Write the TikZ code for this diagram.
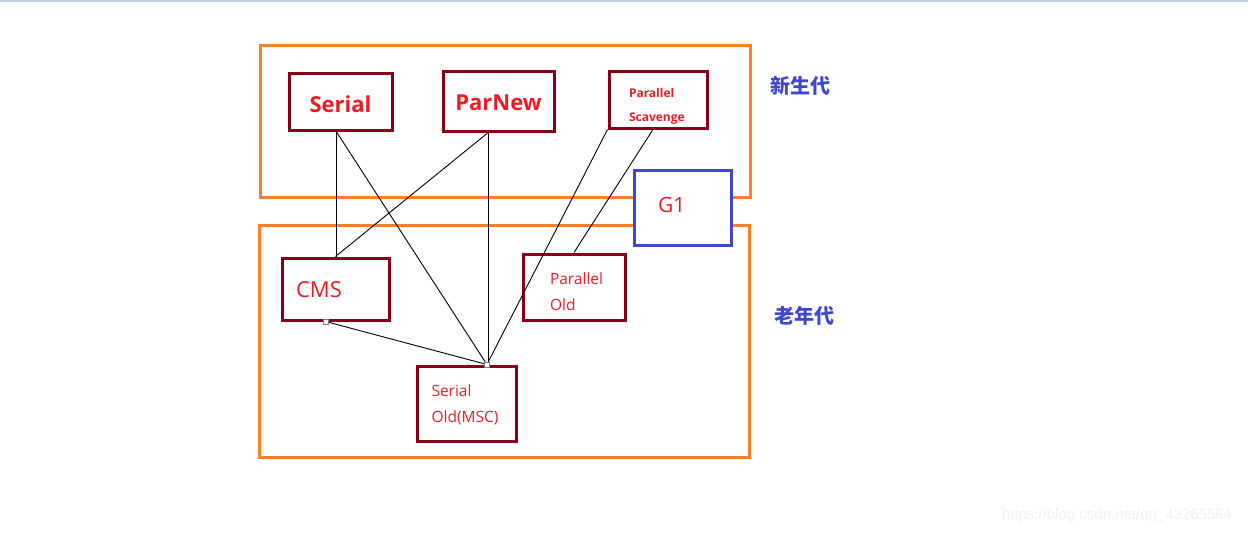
\documentclass[tikz,border=0pt]{standalone}
\usepackage{fontspec}
\setmainfont{Open Sans}
\newfontfamily\cjk{Noto Sans CJK SC}
\newfontfamily\wmfont{Liberation Sans}
\usetikzlibrary{calc,positioning}

\definecolor{boxred}{RGB}{136,0,21}
\definecolor{txtred}{RGB}{237,28,36}
\definecolor{frameorange}{RGB}{255,127,39}
\definecolor{gblue}{RGB}{63,72,204}
\definecolor{bandblue}{RGB}{195,204,221}

\begin{document}
\begin{tikzpicture}[x=1pt, y=-1pt,
        genframe/.style = {draw=frameorange, line width=3pt},
        gcbox/.style    = {draw=boxred, line width=3pt, text=txtred, inner ysep=0pt, align=left},
        link/.style     = {draw=black, line width=0.9pt},
        genlabel/.style = {text=gblue, font=\cjk\bfseries\fontsize{20}{24}\selectfont},
        handle/.style   = {draw=gray, fill=white, line width=0.7pt, minimum size=5pt, inner sep=0pt},
                            ]
    \useasboundingbox (0,0) rectangle (1248,535);
    \fill[bandblue] (0,0) rectangle (1248,2);
    % generation frames
    \draw[genframe] (260,46) rectangle (750,197);
    \draw[genframe] (259,225) rectangle (749,457);
    \node[genlabel] (young) at (800,86) {新生代};
    \node[genlabel] (old) at (804,316) {老年代};
    % young generation collectors
    \node[gcbox, align=center, minimum width=103pt, minimum height=56pt,
          text height=21.6pt, text depth=0pt,
          font=\bfseries\fontsize{22}{26}\selectfont] (serial) at (340.5,102) {Serial};
    \node[gcbox, align=center, minimum width=111pt, minimum height=59pt,
          text height=18.8pt, text depth=0pt,
          font=\bfseries\fontsize{22}{26}\selectfont] (parnew) at (498.5,101.5) {ParNew};
    \node[gcbox, minimum height=56pt, inner xsep=20pt, text width=58pt,
          text height=10pt, text depth=15.4pt,
          font=\bfseries\fontsize{12}{24}\selectfont] (pscav) at (658,100) {Parallel\\Scavenge};
    % old generation collectors
    \node[gcbox, minimum height=62pt, inner xsep=14pt, text width=79pt,
          text height=17.8pt, text depth=0pt,
          font=\fontsize{22}{26}\selectfont] (cms) at (335.5,289) {CMS};
    \node[gcbox, minimum height=66pt, inner xsep=27pt, text width=48pt,
          text height=10pt, text depth=15pt,
          font=\fontsize{15.5}{26}\selectfont] (pold) at (574,287) {Parallel\\Old};
    \node[gcbox, minimum height=75pt, inner xsep=14.5pt, text width=70pt,
          text height=10pt, text depth=24pt,
          font=\fontsize{15.5}{26}\selectfont] (sold) at (466.5,403.5) {Serial\\Old(MSC)};
    %
    \coordinate (serialfoot) at ($(serial.south west)!.46!(serial.south east)$);
    \coordinate (parnewfoot) at ($(parnew.south west)!.41!(parnew.south east)$);
    \coordinate (pscavfoot)  at ($(pscav.south west)!.45!(pscav.south east)$);
    \coordinate (cmsfoot)    at ($(cms.south west)!.41!(cms.south east)$);
    \coordinate (soldhead)   at ($(sold.north west)!.7!(sold.north east)$);
    %
    \draw[link] (serialfoot) -- (serialfoot |- cms.north);
    \draw[link] (serialfoot) -- (soldhead);
    \draw[link] (parnewfoot) -- (cms.north);
    \draw[link] (parnewfoot) -- (parnewfoot |- soldhead);
    \draw[link] (pscav.south west) -- (soldhead);
    \draw[link] (pscavfoot) -- (pold.north);
    \draw[link] (cmsfoot) -- (soldhead);
    \node[handle] (cmsgrip) at (cmsfoot) {};
    \node[handle] (soldgrip) at (soldhead) {};
    % G1 spans both generations
    \node[gcbox, draw=gblue, fill=white, minimum height=75pt, inner xsep=24pt, text width=49pt,
          text height=10pt, text depth=0pt,
          font=\fontsize{21}{26}\selectfont] (g1) at (682.5,207.5) {G1};
    \node[text=gray!12, font=\wmfont\fontsize{15}{18}\selectfont] (mark) at (1117,516)
          {https://blog.csdn.net/qq\_43265564};
\end{tikzpicture}
\end{document}
